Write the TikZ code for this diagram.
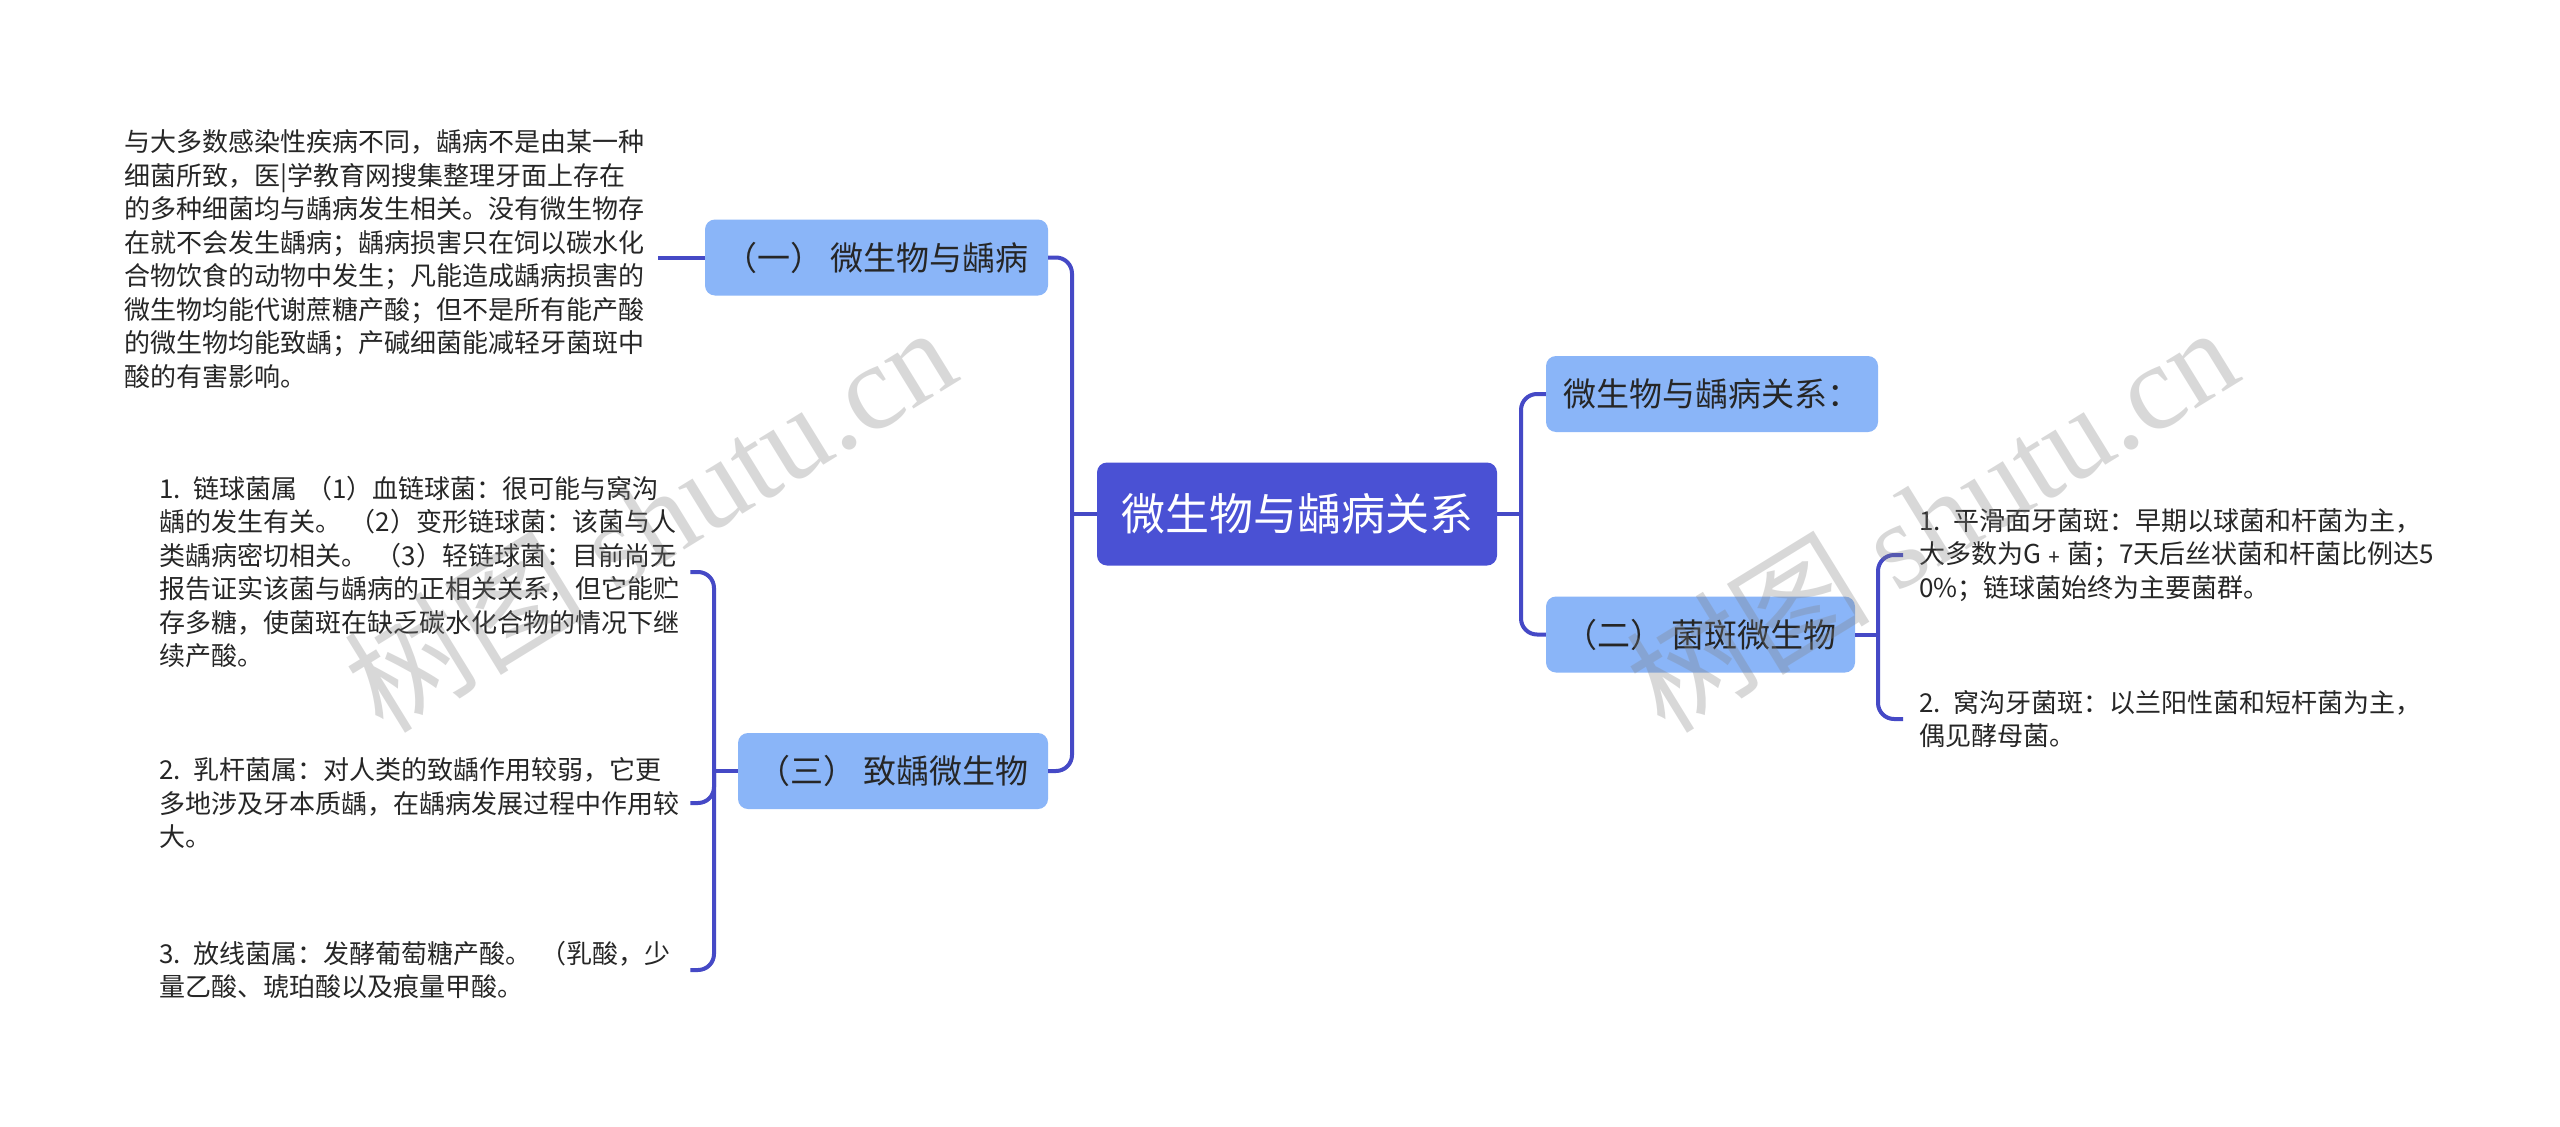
\documentclass[tikz,border=0pt]{standalone}
\usepackage{fontspec}
\setmainfont{Noto Sans CJK SC}
\newfontfamily\wmlatin{Liberation Serif}
\usetikzlibrary{calc}
\definecolor{rootc}{HTML}{4A51D4}
\definecolor{boxc}{HTML}{8AB5F8}
\definecolor{linec}{HTML}{4549C6}
\definecolor{txt}{HTML}{262626}
\begin{document}
\begin{tikzpicture}[x=1pt,y=-1pt,
  conn/.style={draw=linec, line width=4pt, rounded corners=16pt},
  rootbox/.style={fill=rootc, text=white, rounded corners=10pt, font=\fontsize{44}{50}\selectfont, minimum height=103pt, inner sep=0pt},
  subbox/.style={fill=boxc, text=txt, rounded corners=10pt, font=\fontsize{33}{38}\selectfont, minimum height=76pt, inner sep=0pt},
  leaf/.style={text=txt, font=\fontsize{26}{33.5}\selectfont, align=left, inner ysep=0pt, anchor=west},
  wm/.style={text=gray, opacity=0.3, rotate=31.6, font=\fontsize{122}{130}\selectfont},
]
\useasboundingbox (0,0) rectangle (2560,1127);
\fill[white] (0,0) rectangle (2560,1127);

% main nodes
\node[rootbox, minimum width=400pt] (root) at (1297,514) {微生物与龋病关系};
\node[subbox, minimum width=343pt] (n1) at (876.5,257.5) {（一） 微生物与龋病};
\node[subbox, minimum width=310pt] (n3) at (893,771) {（三） 致龋微生物};
\node[subbox, minimum width=332pt] (n4) at (1712,394) {微生物与龋病关系：};
\node[subbox, minimum width=309pt] (n2) at (1700.5,634.5) {（二） 菌斑微生物};

% leaf texts
\node[leaf, text width=530pt, inner xsep=4pt] (t1) at (120,259) {与大多数感染性疾病不同，龋病不是由某一种\\
细菌所致，医|学教育网搜集整理牙面上存在\\
的多种细菌均与龋病发生相关。没有微生物存\\
在就不会发生龋病；龋病损害只在饲以碳水化\\
合物饮食的动物中发生；凡能造成龋病损害的\\
微生物均能代谢蔗糖产酸；但不是所有能产酸\\
的微生物均能致龋；产碱细菌能减轻牙菌斑中\\
酸的有害影响。};

\node[leaf, text width=527pt, inner xsep=4pt] (a1) at (155,572) {1. 链球菌属 （1）血链球菌：很可能与窝沟\\
龋的发生有关。 （2）变形链球菌：该菌与人\\
类龋病密切相关。 （3）轻链球菌：目前尚无\\
报告证实该菌与龋病的正相关关系，但它能贮\\
存多糖，使菌斑在缺乏碳水化合物的情况下继\\
续产酸。};

\node[leaf, text width=527pt, inner xsep=4pt] (a2) at (155,803) {2. 乳杆菌属：对人类的致龋作用较弱，它更\\
多地涉及牙本质龋，在龋病发展过程中作用较\\
大。};

\node[leaf, text width=527pt, inner xsep=4pt] (a3) at (155,970) {3. 放线菌属：发酵葡萄糖产酸。 （乳酸，少\\
量乙酸、琥珀酸以及痕量甲酸。};

\node[leaf, text width=540pt, inner xsep=16pt] (b1) at (1903,555) {1. 平滑面牙菌斑：早期以球菌和杆菌为主，\\
大多数为G﹢菌；7天后丝状菌和杆菌比例达5\\
0\%；链球菌始终为主要菌群。};

\node[leaf, text width=540pt, inner xsep=16pt] (b2) at (1903,719) {2. 窝沟牙菌斑：以兰阳性菌和短杆菌为主，\\
偶见酵母菌。};

% connectors
\coordinate (cl) at (1072,514);
\coordinate (cr) at (1521,514);
\coordinate (ca) at (714,771);
\coordinate (cb) at (1878,634.5);

\draw[conn] (n1.east) -| (cl) |- (n3.east);
\draw[conn] (root.west) -- (cl);
\draw[conn] (n4.west) -| (cr) |- (n2.west);
\draw[conn] (root.east) -- (cr);
\draw[conn] (n1.west) -- (n1.west -| t1.east);
\draw[conn] (a1.east) -| (ca) |- (a3.east);
\draw[conn] (a2.east) -| (ca);
\draw[conn] (n3.west) -- (ca);
\draw[conn] (b1.west) -| (cb) |- (b2.west);
\draw[conn] (n2.east) -- (cb);

% watermarks
\node[wm] (w1) at (649,518) {树图 {\wmlatin shutu.cn}};
\node[wm] (w2) at (1931,518) {树图 {\wmlatin shutu.cn}};
\end{tikzpicture}
\end{document}
